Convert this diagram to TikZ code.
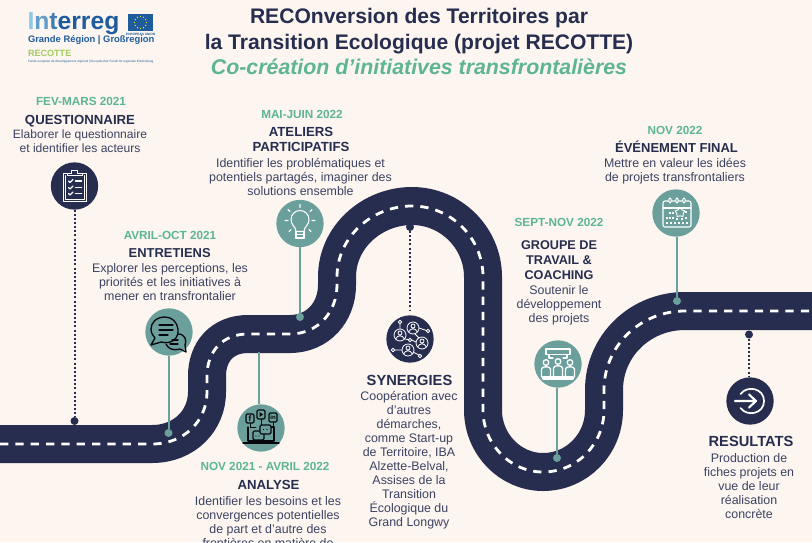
\documentclass[tikz,border=0pt]{standalone}
\usepackage{fontspec}
\setmainfont{Liberation Sans}
\usetikzlibrary{shapes.geometric}
\definecolor{bgc}{HTML}{FCF5F0}
\definecolor{navy}{HTML}{262D4E}
\definecolor{tealc}{HTML}{6B9F9C}
\definecolor{greenc}{HTML}{5DB592}
\definecolor{descc}{HTML}{3C4262}
\definecolor{logob}{HTML}{1F5C9E}
\definecolor{logol}{HTML}{8CC9E8}
\definecolor{logog}{HTML}{A4CC5E}
\newcommand{\fs}[2]{\fontsize{#1}{#2}\selectfont}
\tikzset{
  x=0.75pt,y=-0.75pt,
  txt/.style={inner sep=0pt,outer sep=0pt,anchor=north,align=center},
  datetxt/.style={txt,text=greenc,font=\fs{8.8}{10}\bfseries,yshift=-2.25pt},
  headtxt/.style={txt,text=navy,font=\fs{9.9}{11.3}\bfseries,yshift=-3pt},
  bighead/.style={headtxt,font=\fs{11}{11.3}\bfseries},
  desctxt/.style={txt,text=descc,font=\fs{9.3}{10.5},yshift=-1.5pt},
  titletxt/.style={txt,text=navy,font=\fs{15.8}{19.4}\bfseries,yshift=-2.6pt},
  navydisc/.style={circle,fill=navy,minimum size=35.5pt,inner sep=0pt,outer sep=0pt},
  tealdisc/.style={circle,fill=tealc,minimum size=35.5pt,inner sep=0pt,outer sep=0pt},
  navydot/.style={circle,fill=navy,minimum size=6pt,inner sep=0pt,outer sep=0pt},
  tealdot/.style={circle,fill=tealc,minimum size=6pt,inner sep=0pt,outer sep=0pt},
  tealline/.style={draw=tealc,line width=1.5pt},
  dotline/.style={draw=navy,line width=1.5pt,dash pattern=on 1.5pt off 1.6pt},
  road/.style={draw=navy,line width=28.5pt},
  roaddash/.style={draw=white,line width=2.1pt,dash pattern=on 6.2pt off 5.3pt},
  iconw/.style={draw=white,line width=0.6pt,line cap=round,line join=round},
  iconk/.style={draw=black!85!navy,line width=0.6pt,line cap=round,line join=round},
}
\begin{document}
\begin{tikzpicture}
\clip (0,0) rectangle (812,542);
\fill[bgc] (0,0) rectangle (812,542);
\useasboundingbox (0,0) rectangle (812,542);

% road
\def\roadpath{(0,444) -- (152,444) .. controls (185,444) and (207,420) .. (207,392) -- (207,376) .. controls (207,352) and (222,334) .. (248,334) -- (290,334) .. controls (318,334) and (337,312) .. (337,285) -- (337,277) .. controls (337,237) and (372,206) .. (412,206) .. controls (451,206) and (483,238) .. (483,277) -- (483,410) .. controls (483,444) and (510,472) .. (543,472) .. controls (577,472) and (604,444) .. (604,410) -- (604,390) .. controls (604,346) and (640,311) .. (685,311) -- (812,311)}
\draw[road] \roadpath;
\draw[roaddash] \roadpath;

% discs and dots
\node[navydisc] (c1) at (74.5,186) {};
\node[tealdisc] (c2) at (169,332) {};
\node[tealdisc] (c3) at (300,223.5) {};
\node[tealdisc] (c4) at (261,428) {};
\node[navydisc] (c5) at (410,339) {};
\node[tealdisc] (c6) at (558,364) {};
\node[tealdisc] (c7) at (676,213) {};
\node[navydisc] (c8) at (750,401) {};
\node[navydot] (d1) at (74.5,421) {};
\node[tealdot] (d2) at (168.5,433) {};
\node[tealdot] (d3) at (300,317) {};
\coordinate (d4) at (259,352);
\node[navydot] (d5) at (410,227) {};
\node[tealdot] (d6) at (557,458) {};
\node[tealdot] (d7) at (677,301) {};
\node[navydot] (d8) at (749,334.5) {};

\draw[dotline] (c1) -- (d1);
\draw[tealline] (d2 |- c2.south) -- (d2);
\draw[tealline] (c3) -- (d3);
\draw[tealline] (d4) -- (d4 |- c4.north);
\draw[dotline] (d5) -- ([yshift=3pt]c5.north);
\draw[tealline] (d6 |- c6.south) -- (d6);
\draw[tealline] (d7 |- c7.south) -- (d7);
\draw[dotline] (d8) -- ([yshift=1pt]d8 |- c8.north);

% title
\node[titletxt] (t1) at (419,2) {\strut RECOnversion des Territoires par\\\strut la Transition Ecologique (projet RECOTTE)};
\node[txt,text=greenc,font=\fs{16}{19}\bfseries\itshape,yshift=-2.6pt] (t2) at (419,53) {\strut Co-création d\char"0027 initiatives transfrontalières};

% logo
\node[txt,anchor=west,font=\fs{18.5}{20}\bfseries] (lg1) at (27.5,24) {\textcolor{logol}{I}\textcolor{logol!60!logob}{n}\textcolor{logol!30!logob}{t}\textcolor{logob}{erreg}};
\fill[logob] (128,14) rectangle (153,31);
\foreach \a in {0,30,...,330} \fill[yellow!90!orange] ({140.5+6*cos(\a)},{22.5+6*sin(\a)}) circle (0.7);
\node[txt,anchor=center,text=logob,font=\fs{2.4}{3}\bfseries] (lg2) at (140.5,34) {EUROPEAN UNION};
\node[txt,anchor=west,text=logob,font=\fs{7.05}{8}\bfseries] (lg3) at (28,40.5) {Grande Région | Großregion};
\node[txt,anchor=west,text=logog,font=\fs{6.8}{8}\bfseries] (lg4) at (28,53.5) {RECOTTE};
\node[txt,anchor=west,text=logob,font=\fs{2.3}{3}] (lg5) at (28,62) {Fonds européen de développement régional | Europäischer Fonds für regionale Entwicklung};

% texts
\node[datetxt] (a1) at (81,93) {\strut FEV-MARS 2021};
\node[headtxt] (a2) at (80,110) {\strut QUESTIONNAIRE};
\node[desctxt,font=\fs{9.05}{10.5}] (a3) at (80,127) {\strut Elaborer le questionnaire\\\strut et identifier les acteurs};

\node[datetxt] (b1) at (170,227) {\strut AVRIL-OCT 2021};
\node[headtxt,font=\fs{9.7}{11.3}\bfseries] (b2) at (169.7,243) {\strut ENTRETIENS};
\node[desctxt] (b3) at (170,261) {\strut Explorer les perceptions, les\\\strut priorités et les initiatives à\\\strut mener en transfrontalier};

\node[datetxt] (e1) at (302,106) {\strut MAI-JUIN 2022};
\node[headtxt] (e2) at (301,122) {\strut ATELIERS\\\strut PARTICIPATIFS};
\node[desctxt] (e3) at (300.5,156) {\strut Identifier les problématiques et\\\strut potentiels partagés, imaginer des\\\strut solutions ensemble};

\node[datetxt] (f1) at (265,458) {\strut NOV 2021 - AVRIL 2022};
\node[headtxt] (f2) at (268.5,475) {\strut ANALYSE};
\node[desctxt] (f3) at (268,494) {\strut Identifier les besoins et les\\\strut convergences potentielles\\\strut de part et d'autre des\\\strut frontières en matière de};

\node[bighead] (g2) at (409.5,371) {\strut SYNERGIES};
\node[desctxt] (g3) at (409,389) {\strut Coopération avec\\\strut d'autres\\\strut démarches,\\\strut comme Start-up\\\strut de Territoire, IBA\\\strut Alzette-Belval,\\\strut Assises de la\\\strut Transition\\\strut \smash{Écologique du}\\\strut Grand Longwy};

\node[datetxt] (h1) at (559,214) {\strut SEPT-NOV 2022};
\node[headtxt,font=\fs{9.5}{11.25}\bfseries] (h2) at (559,235) {\strut GROUPE DE\\\strut TRAVAIL \&\\\strut COACHING};
\node[desctxt] (h3) at (559,283) {\strut Soutenir le\\\strut développement\\\strut des projets};

\node[datetxt] (i1) at (675,122) {\strut NOV 2022};
\node[headtxt,font=\fs{9.75}{11.3}\bfseries] (i2) at (676.5,138) {\strut \smash{ÉVÉNEMENT FINAL}};
\node[desctxt] (i3) at (675,156) {\strut Mettre en valeur les idées\\\strut de projets transfrontaliers};

\node[bighead] (j2) at (751,432) {\strut RESULTATS};
\node[desctxt] (j3) at (749,451) {\strut Production de\\\strut fiches projets en\\\strut vue de leur\\\strut réalisation\\\strut concrète};

% icon: clipboard
\begin{scope}[shift={(74.5,186)}]
\draw[iconw] (-11.5,-12.5) rectangle (11.5,15);
\draw[iconw] (-9.5,-10.5) -- (-9.5,13) -- (9.5,13) -- (9.5,-10.5);
\draw[iconw,fill=navy] (-7.5,-10.5) -- (-7.5,-13) -- (-3,-13) -- (-3,-15.5) -- (3,-15.5) -- (3,-13) -- (7.5,-13) -- (7.5,-10.5) -- cycle;
\foreach \yy in {-5,1.5,7.5}{
  \draw[iconw,line width=0.8pt] (-6,\yy) -- (-4.5,{\yy+1.5}) -- (-1.5,{\yy-1.5});
  \draw[iconw,line width=1pt] (1,\yy) -- (7,\yy);
}
\end{scope}

% icon: speech bubbles
\begin{scope}[shift={(169,332)}]
\draw[iconk,line width=1pt] (-4,-15) .. controls (-13,-15) and (-18,-9) .. (-18,-3) .. controls (-18,1) and (-16,4) .. (-14,6) -- (-18,13) -- (-8,10) .. controls (4,13) and (10,5) .. (9,-3) .. controls (8,-10) and (3,-15) .. (-4,-15) -- cycle;
\draw[iconk,line width=1pt] (-10,-7) -- (4,-7) (-10,-2) -- (4,-2) (-10,3) -- (-1,3);
\draw[iconk,line width=1pt] (9,2) .. controls (16,2) and (18,8) .. (16,13) -- (17,20) -- (11,17) .. controls (5,19) and (-1,17) .. (-3,12);
\draw[iconk,line width=0.8pt] (3,8) -- (9,8) (1,12) -- (9,12);
\end{scope}

% icon: light bulb
\begin{scope}[shift={(300,223.5)}]
\draw[iconw,line width=0.8pt] (-4,8) .. controls (-4,3) and (-9,2) .. (-9,-4) .. controls (-9,-9) and (-5,-13) .. (0,-13) .. controls (5,-13) and (9,-9) .. (9,-4) .. controls (9,2) and (4,3) .. (4,8) -- cycle;
\draw[iconw,line width=0.8pt] (-4,11) -- (4,11) (-4,14) -- (4,14) (-4,8) -- (-4,15) -- (4,15) -- (4,8);
\draw[iconw,line width=0.8pt] (0,-19) -- (0,-16) (-12,-14) -- (-10,-12) (12,-14) -- (10,-12) (-15,-3) -- (-12,-3) (15,-3) -- (12,-3) (-11,8) -- (-9,6) (11,8) -- (9,6);
\end{scope}

% icon: social / laptop
\begin{scope}[shift={(261,428)}]
\draw[iconk,rounded corners=1pt,line width=0.9pt] (-15,-14) rectangle (-7,-5);
\draw[iconk,rounded corners=1pt,line width=0.9pt] (-4,-18) rectangle (4,-9);
\draw[iconk,rounded corners=1pt,line width=0.9pt] (8,-15) rectangle (16,-6);
\node[inner sep=0pt,font=\fs{6}{6}\bfseries,text=black] (fb) at (-11,-9.5) {f};
\fill[black] (-1.5,-16) -- (2,-13.5) -- (-1.5,-11) -- cycle;
\node[inner sep=0pt,font=\fs{4.5}{5}\bfseries,text=black] (li) at (12,-10.5) {in};
\draw[iconk,line width=0.9pt] (-13,-1) -- (-13,13) -- (13,13) -- (13,-1) -- (9,-1);
\draw[iconk,line width=1.1pt] (-18,15) -- (18,15);
\draw[iconk] (-11,-5) -- (-11,-1) -- (-5,-1) (0,-9) -- (0,-3) (12,-6) -- (12,-1) -- (9,-1);
\draw[iconk,line width=0.9pt,rounded corners=1pt] (-8,3) rectangle (3,12);
\draw[iconk,line width=0.9pt,rounded corners=1pt,fill=tealc] (-1,-3) rectangle (10,6);
\fill[black] (2.5,1.5) circle (0.7) (6,1.5) circle (0.7) (-5,8) circle (0.7) (-2,8) circle (0.7);
\end{scope}

% icon: network
\begin{scope}[shift={(410,339)}]
\draw[iconw] (3,-11) circle (6) (3,-13) circle (2) (-1,-7.5) .. controls (0,-11) and (6,-11) .. (7,-7.5);
\draw[iconw] (-10,-4) circle (6) (-10,-6) circle (2) (-14,-0.5) .. controls (-13,-4) and (-7,-4) .. (-6,-0.5);
\draw[iconw] (12,4) circle (6) (12,2) circle (2) (8,7.5) .. controls (9,4) and (15,4) .. (16,7.5);
\draw[iconw] (-2,11) circle (6) (-2,9) circle (2) (-6,14.5) .. controls (-5,11) and (1,11) .. (2,14.5);
\draw[iconw] (-10,-17) circle (1.8) (18,-8) circle (1.8) (-17,11) circle (1.8) (10,17) circle (1.8) (0,1) circle (1.8);
\draw[iconw] (-10,-15.2) -- (-10,-10) (9,-11) -- (16.5,-8.5) (-8,11) -- (-15.2,11) (3,13) -- (8.7,15.8) (-5,0) -- (-1.6,0.6) (1.8,1) -- (6,3) (5,-5) -- (9,-1);
\end{scope}

% icon: board and people
\begin{scope}[shift={(558,364)}]
\draw[iconw,line width=1pt] (-12,-15) rectangle (12,-9.5);
\draw[iconw,line width=1pt] (-9,-9.5) -- (-9,-6) (9,-9.5) -- (9,-6) (-9,-6) -- (-5,-6) (9,-6) -- (5,-6);
\draw[iconw,line width=1pt] (-15,15) rectangle (15,13);
\foreach \xx/\yy in {-12/0,12/0,0/-1}{
  \draw[iconw,line width=1pt] (\xx,{\yy-1.5}) circle (2.8);
  \draw[iconw,line width=1pt] ({\xx-4.5},13) -- ({\xx-4.5},{\yy+5}) .. controls ({\xx-4.5},{\yy+2}) and ({\xx+4.5},{\yy+2}) .. ({\xx+4.5},{\yy+5}) -- ({\xx+4.5},13);
}
\end{scope}

% icon: calendar
\begin{scope}[shift={(676,213)}]
\draw[iconw,line width=0.8pt,rounded corners=1.5pt] (-13,-12) rectangle (15,14);
\draw[iconw,line width=0.8pt] (-13,-5) -- (15,-5);
\foreach \xx in {-6,1,8} \draw[iconw,line width=0.8pt,fill=tealc,rounded corners=1pt] ({\xx-1.2},-15) rectangle ({\xx+1.2},-10);
\node[star,star points=5,draw=white,line width=0.7pt,inner sep=0pt,minimum size=7.5pt] (st) at (4,-0.5) {};
\foreach \xx/\yy in {-6/0,-3/0,-9/5,-6/5,-3/5,10/-1,10/5,-9/10,-5/10,-1/10,3/10,7/10,11/10,1/6,6/6}
  \fill[white] ({\xx-1.2},{\yy-1.2}) rectangle ({\xx+1.2},{\yy+1.2});
\end{scope}

% icon: arrow in circle
\begin{scope}[shift={(750,401)}]
\draw[iconw,line width=1.3pt] (-9.5,-7) .. controls (-3,-16) and (14,-13) .. (14,0) .. controls (14,13) and (-3,16) .. (-9.5,7);
\draw[iconw,line width=1.6pt] (-15,0) -- (6,0) (-1,-6.5) -- (6,0) -- (-1,6.5);
\end{scope}
\end{tikzpicture}
\end{document}
